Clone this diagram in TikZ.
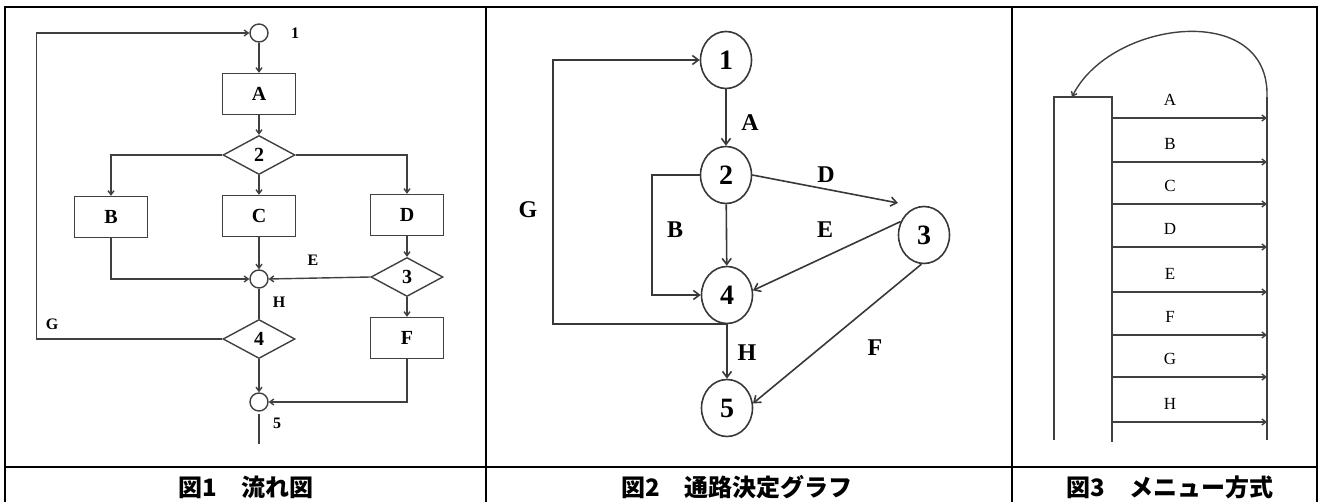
\documentclass[tikz,border=0pt]{standalone}
\usepackage{fontspec}
\setmainfont{Liberation Serif}
\newfontfamily\cjk{Noto Sans CJK JP}
\usetikzlibrary{arrows.meta,shapes.geometric}
\begin{document}
\begin{tikzpicture}[x=1pt,y=-1pt,
  ln/.style={draw=black!75, line width=1.4pt},
  arr/.style={ln, -{Straight Barb[length=4pt,width=6pt]}},
  arrb/.style={draw=black!78, line width=1.6pt, -{Straight Barb[length=6pt,width=9pt]}},
  box/.style={rectangle, draw=black!75, line width=1.4pt, minimum width=73pt, minimum height=41pt, inner sep=0pt, font=\fontsize{20}{20}\selectfont\bfseries},
  dia/.style={diamond, draw=black!75, line width=1.4pt, minimum width=72pt, minimum height=39pt, aspect=1.85, inner sep=0pt, font=\fontsize{20}{20}\selectfont\bfseries},
  sc/.style={circle, draw=black!75, line width=1.4pt, minimum size=18pt, inner sep=0pt},
  lb/.style={font=\fontsize{16}{16}\selectfont\bfseries, inner sep=0pt},
  gn/.style={ellipse, draw=black!78, line width=1.6pt, minimum width=51pt, minimum height=57pt, inner sep=0pt, font=\fontsize{28}{28}\selectfont\bfseries},
  gl/.style={font=\fontsize{24}{24}\selectfont\bfseries, inner sep=0pt},
  ml/.style={font=\fontsize{17}{17}\selectfont, inner sep=0pt},
  frame/.style={draw=black, line width=2.2pt},
  captext/.style={font=\cjk\bfseries\fontsize{24}{24}\selectfont, inner sep=0pt}]
\useasboundingbox (0,0) rectangle (1318,502);
% ---------- table frame ----------
\draw[frame] (5,503) -- (5,7) -- (1317,7) -- (1317,503);
\draw[frame] (486,7) -- (486,503);
\draw[frame] (1012,7) -- (1012,503);
\draw[frame] (5,467) -- (1317,467);
\node[captext] (cap1) at (246,487) {図1　流れ図};
\node[captext] (cap2) at (737,487) {図2　通路決定グラフ};
\node[captext] (cap3) at (1170,487) {図3　メニュー方式};
% ---------- Figure 1 ----------
\node[sc] (c1) at (259,33) {};
\node[box] (A) at (259,94) {A};
\node[dia] (d2) at (259,155) {2};
\node[box] (B) at (111,217) {B};
\node[box] (C) at (259,216) {C};
\node[box] (D) at (407,215) {D};
\node[sc] (j) at (259,279) {};
\node[dia] (d3) at (407,277) {3};
\node[dia] (d4) at (259,339) {4};
\node[box] (F) at (407,338) {F};
\node[sc] (c5) at (259,402) {};
\node[lb] (l1) at (295,33) {1};
\node[lb] (lE) at (313,260) {E};
\node[lb] (lH) at (279,302) {H};
\node[lb] (lG) at (52,324) {G};
\node[lb] (l5) at (277,423) {5};
\draw[arr] (d4.west) -- ++(-186,0) |- (c1.west);
\draw[arr] (c1) -- (A);
\draw[arr] (A) -- (d2);
\draw[arr] (d2.west) -| (B.north);
\draw[arr] (d2) -- (C);
\draw[arr] (d2.east) -| (D.north);
\draw[arr] (B.south) |- (j.west);
\draw[arr] (C) -- (j);
\draw[arr] (D) -- (d3);
\draw[arr] (d3.west) -- (j.east);
\draw[ln] (j) -- (d4);
\draw[arr] (d3) -- (F);
\draw[arr] (d4) -- (c5);
\draw[arr] (F.south) |- (c5.east);
\draw[ln] (c5.south) ++(0,2) -- ++(0,30);
% ---------- Figure 2 ----------
\node[gn] (n1) at (726,60) {1};
\node[gn] (n2) at (726,175) {2};
\node[gn] (n3) at (924,235) {3};
\node[gn] (n4) at (727,295) {4};
\node[gn] (n5) at (727,408) {5};
\coordinate (dtip) at (898,203);
\draw[arrb] (n1) -- (n2);
\draw[arrb] (n2) -- (n4);
\draw[arrb] (n4) -- (n5);
\draw[arrb] (n2.west) -- ++(-48,0) |- (n4.west);
\draw[arrb] (n4.south) -- ++(-174,0) |- (n1.west);
\draw[arrb] (n2.east) -- (dtip);
\draw[arrb] (n3.150) -- (n4.10);
\draw[arrb] (n3.265) -- (n5.10);
\node[gl] (gA) at (750,123) {A};
\node[gl] (gB) at (675,230) {B};
\node[gl] (gD) at (826,175) {D};
\node[gl] (gE) at (825,230) {E};
\node[gl] (gF) at (875,348) {F};
\node[gl] (gG) at (528,210) {G};
\node[gl] (gH) at (747,353) {H};
% ---------- Figure 3 ----------
\coordinate (mL) at (1054,440);
\coordinate (mTL) at (1054,97);
\coordinate (mTR) at (1112,97);
\coordinate (mR) at (1112,442);
\coordinate (vT) at (1267,97);
\coordinate (vB) at (1267,440);
\coordinate (atip) at (1072,97);
\draw[ln] (mL) -- (mTL) -- (mTR) -- (mR);
\draw[ln] (vT) -- (vB);
\draw[arr] (vT) .. controls (1270,0) and (1110,20) .. (atip);
\foreach \y/\t [count=\i] in {118/A,162/B,204/C,247/D,292/E,335/F,377/G,422/H}{
  \coordinate (ms\i) at (1112,\y);
  \coordinate (me\i) at (1267,\y);
  \draw[arr] (ms\i) -- (me\i);
  \node[ml] (mlab\i) at (1170,\y-18) {\t};
}
\end{tikzpicture}
\end{document}
